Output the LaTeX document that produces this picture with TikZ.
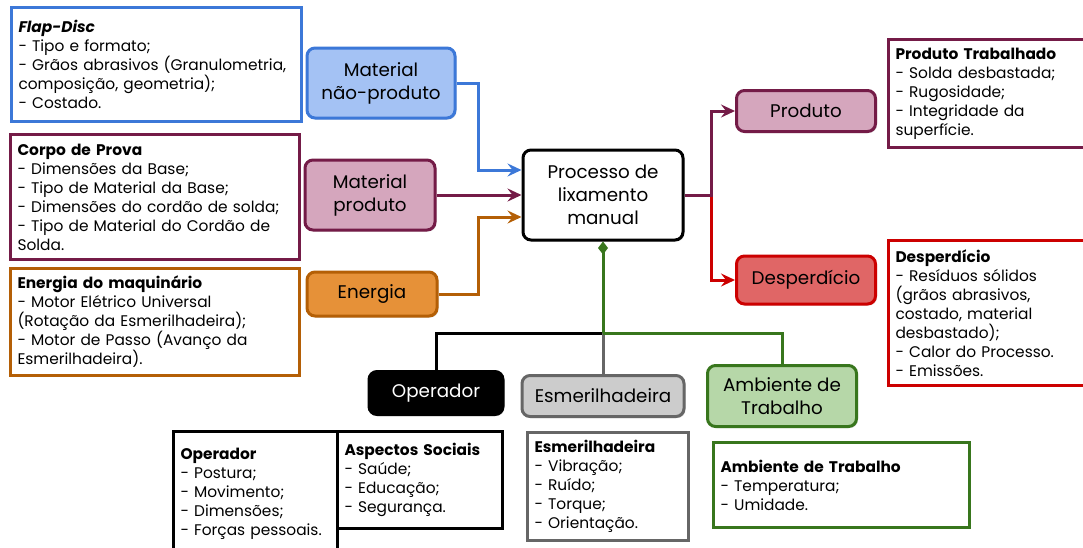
\documentclass[tikz,border=0pt]{standalone}
\usepackage{fontspec}
\setmainfont{Poppins}
\usetikzlibrary{arrows.meta,shadows,calc}

\definecolor{cblue}{HTML}{3C78D8}
\definecolor{cbluef}{HTML}{A4C2F4}
\definecolor{cpurp}{HTML}{741B47}
\definecolor{cpurpf}{HTML}{D5A6BD}
\definecolor{corng}{HTML}{B45F06}
\definecolor{corngf}{HTML}{E69138}
\definecolor{cred}{HTML}{CC0000}
\definecolor{credf}{HTML}{E06666}
\definecolor{cgrn}{HTML}{38761D}
\definecolor{cgrnf}{HTML}{B6D7A8}
\definecolor{cgray}{HTML}{666666}
\definecolor{cgrayf}{HTML}{CCCCCC}

\tikzset{
  shade box/.style={drop shadow={shadow xshift=1.5pt, shadow yshift=-1.5pt, opacity=0.25}},
  stage/.style={shade box, rounded corners=8pt, line width=3pt, align=center,
    inner sep=2pt, font=\fontsize{18.3}{23}\selectfont},
  info/.style={shade box, line width=3pt, fill=white, align=left, anchor=north west,
    inner xsep=7pt, inner ysep=0pt, font=\fontsize{15.4}{19}\selectfont},
  flow/.style={line width=3pt, -{Stealth[length=14pt,width=13pt,inset=5pt]}},
  link/.style={line width=3pt},
}

\begin{document}
\begin{tikzpicture}[x=1pt,y=-1pt]
\useasboundingbox (0,0) rectangle (1083,547);

% ---- input description boxes
\node[info, draw=cblue, minimum width=290pt, minimum height=114pt, text width=276pt] (fd) at (10,6)
  {\textbf{\textit{Flap-Disc}}\\- Tipo e formato;\\- Grãos abrasivos (Granulometria,\\composição, geometria);\\- Costado.};
\node[info, draw=cpurp, minimum width=289pt, minimum height=125pt, text width=275pt] (cp) at (9,133)
  {\textbf{Corpo de Prova}\\- Dimensões da Base;\\- Tipo de Material da Base;\\- Dimensões do cordão de solda;\\- Tipo de Material do Cordão de\\Solda.};
\node[info, draw=corng, minimum width=289pt, minimum height=107pt, text width=275pt] (em) at (9,267)
  {\textbf{Energia do maquinário}\\- Motor Elétrico Universal\\(Rotação da Esmerilhadeira);\\- Motor de Passo (Avanço da\\Esmerilhadeira).};

% ---- output description boxes
\node[info, draw=cpurp, minimum width=200pt, minimum height=108pt, text width=186pt] (pt) at (887,38)
  {\textbf{Produto Trabalhado}\\- Solda desbastada;\\- Rugosidade;\\- Integridade da\\superfície.};
\node[info, draw=cred, minimum width=200pt, minimum height=145pt, text width=186pt] (dp) at (887,239)
  {\textbf{Desperdício}\\- Resíduos sólidos\\(grãos abrasivos,\\costado, material\\desbastado);\\- Calor do Processo.\\- Emissões.};

% ---- bottom description boxes
\node[info, draw=black, minimum width=164pt, minimum height=125pt, text width=150pt] (op) at (172,430)
  {\textbf{Operador}\\- Postura;\\- Movimento;\\- Dimensões;\\- Forças pessoais.};
\node[info, draw=black, minimum width=165pt, minimum height=97pt, text width=151pt] (as) at (336,430)
  {\textbf{Aspectos Sociais}\\- Saúde;\\- Educação;\\- Segurança.};
\node[info, draw=cgray, minimum width=161pt, minimum height=108pt, text width=147pt] (eb) at (526,431)
  {\textbf{Esmerilhadeira}\\- Vibração;\\- Ruído;\\- Torque;\\- Orientação.};
\node[info, draw=cgrn, minimum width=256pt, minimum height=85pt, text width=242pt] (ab) at (712,441)
  {\textbf{Ambiente de Trabalho}\\- Temperatura;\\- Umidade.};

% ---- stage nodes
\node[stage, draw=cblue, fill=cbluef, minimum width=148pt, minimum height=70pt] (matnp) at (381,83) {Material\\não-produto};
\node[stage, draw=cpurp, fill=cpurpf, minimum width=130pt, minimum height=70pt] (matp) at (370,195) {Material\\produto};
\node[stage, draw=corng, fill=corngf, minimum width=130pt, minimum height=44pt] (ener) at (372,294) {Energia};
\node[stage, draw=black, fill=white, minimum width=160pt, minimum height=90pt] (proc) at (603,195) {Processo de\\lixamento\\manual};
\node[stage, draw=cpurp, fill=cpurpf, minimum width=139pt, minimum height=41pt] (prod) at (806,111) {Produto};
\node[stage, draw=cred, fill=credf, minimum width=139pt, minimum height=48pt] (desp) at (806,280) {Desperdício};
\node[stage, draw=black, fill=black, text=white, minimum width=134pt, minimum height=43pt] (oper) at (436,393) {Operador};
\node[stage, draw=cgray, fill=cgrayf, minimum width=162pt, minimum height=41pt] (esm) at (603,396) {Esmerilhadeira};
\node[stage, draw=cgrn, fill=cgrnf, minimum width=149pt, minimum height=61pt] (amb) at (782,396) {Ambiente de\\Trabalho};

% ---- junction guides
\coordinate (jl) at (478,0);
\coordinate (jr) at (711,0);
\coordinate (hb) at (0,333);
\coordinate (pin1) at ([yshift=25pt]proc.west);
\coordinate (pin3) at ([yshift=-22pt]proc.west);

% ---- inputs
\draw[flow, cblue] (matnp.east) -- (matnp.east -| jl) |- (pin1);
\draw[flow, cpurp] (matp.east) -- (proc.west);
\draw[flow, corng] (ener.east) -- (ener.east -| jl) |- (pin3);

% ---- outputs
\draw[flow, cred] (proc.east -| jr) |- (desp.west);
\draw[flow, cpurp] (proc.east) -- (proc.east -| jr) |- (prod.west);

% ---- bottom tree
\draw[link, black] (proc.south |- hb) -- (hb -| oper) -- (oper.north);
\draw[link, cgray] (proc.south |- hb) -- (esm.north);
\draw[link, cgrn] (proc.south |- hb) -- (hb -| amb) -- (amb.north);
\draw[link, cgrn, {Diamond[length=13pt,width=10pt]}-] (proc.south) -- (proc.south |- hb);
\end{tikzpicture}
\end{document}
